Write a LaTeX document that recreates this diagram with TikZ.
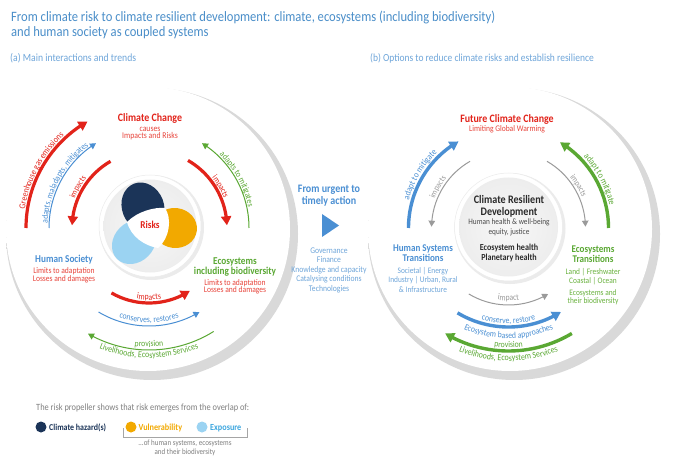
\documentclass[tikz,border=0pt]{standalone}
\usepackage{fontspec}
\setmainfont{Carlito}[FakeStretch=0.88]
\usetikzlibrary{arrows.meta,bending,decorations.text}
\definecolor{cRed}{HTML}{E2231A}
\definecolor{cRedL}{HTML}{E8453C}
\definecolor{cBlue}{HTML}{4A8FD3}
\definecolor{cTitle}{HTML}{4A8EC9}
\definecolor{cBlueL}{HTML}{6FA6DA}
\definecolor{cGreen}{HTML}{5AA833}
\definecolor{cGreenL}{HTML}{6AB23F}
\definecolor{cGray}{HTML}{9A9A9A}
\definecolor{cNavy}{HTML}{1B3458}
\definecolor{cOrange}{HTML}{F2A900}
\definecolor{cLight}{HTML}{9BD3F2}
\definecolor{cExpo}{HTML}{3EA7DF}
\definecolor{cDark}{HTML}{2A2A2A}
\definecolor{cLeg}{HTML}{7F7F7F}
\pgfdeclareradialshading{bigdisk}{\pgfpointorigin}{color(0bp)=(white); color(36bp)=(white); color(50bp)=(black!6)}
\pgfdeclareradialshading{diskshadow}{\pgfpointorigin}{color(0bp)=(black!15); color(44bp)=(black!15); color(50bp)=(white)}
\pgfdeclareradialshading{innerdisk}{\pgfpointorigin}{color(0bp)=(black!3); color(25bp)=(black!7); color(50bp)=(black!27)}
\newcommand{\fs}[1]{\fontsize{#1}{#1}\selectfont}
\newcommand{\arclabel}[7]{\path[decorate,decoration={text along path,text align=center,text={|\fs{#6}\color{#5}|#7}}] ([shift={(#3:#2)}]#1) arc[start angle=#3,end angle=#4,radius=#2];}
\begin{document}
\begin{tikzpicture}[x=1pt,y=1pt,
  bigarr/.style={line width=3.2pt,-{Triangle[length=9pt,width=10pt]}},
  thinarr/.style={line width=1pt,-{Triangle[length=6pt,width=6.5pt]}},
  t/.style={inner sep=0pt,anchor=base}]
\fill[white] (0,0) rectangle (700,466);
\useasboundingbox (0,0) rectangle (700,466);
\coordinate (C1) at (149,238);
\coordinate (C2) at (508.5,238);
% title
\node[t,anchor=base west,text=cTitle,font=\fs{14.3}] (title1) at (11,444) {From climate risk to climate resilient development: climate, ecosystems (including biodiversity)};
\node[t,anchor=base west,text=cTitle,font=\fs{14.3}] (title2) at (11,429) {and human society as coupled systems};
\node[t,anchor=base west,text=cBlueL,font=\fs{11}] (suba) at (10,404) {(a) Main interactions and trends};
\node[t,anchor=base west,text=cBlueL,font=\fs{10.8}] (subb) at (370,404) {(b) Options to reduce climate risks and establish resilience};
% big disks
\shade[shading=diskshadow] (152,232) circle[radius=146];
\shade[shading=bigdisk] (148,237) circle[radius=142];
\shade[shading=diskshadow] (514,232) circle[radius=146];
\shade[shading=bigdisk] (510,237) circle[radius=142];
% inner disks
\fill[black!8] (151.5,238.5) circle[radius=52.5];
\fill[white,draw=black!8,line width=0.5pt] (150,240) circle[radius=51];
\shade[shading=innerdisk] (150,240) circle[radius=46.5];
\fill[black!8] (510,237.5) circle[radius=55.5];
\fill[white,draw=black!8,line width=0.5pt] (508.5,239) circle[radius=54];
\shade[shading=innerdisk] (508.5,239) circle[radius=49.5];
% propeller
\fill[cLight, rotate around={225:(134,224)}] (134,224) ellipse[x radius=24, y radius=20];
\fill[cNavy, rotate around={111:(143,259)}] (143,259) ellipse[x radius=25, y radius=21];
\fill[cOrange, rotate around={-7:(175,238)}] (175,238) ellipse[x radius=22, y radius=20];
\fill[white] (127,244) .. controls (138,255) and (155,259) .. (165,258) .. controls (172,248) and (170,228) .. (158,218) .. controls (145,220) and (131,229) .. cycle;
\node[t,text=cRed,font=\bfseries\fs{10.5}] (risks) at (150,237.5) {Risks};
% left arcs
\draw[bigarr,cRed] ([shift={(180:123)}]C1) arc[start angle=180,end angle=120,radius=123];
\draw[thinarr,cBlue] ([shift={(180:100)}]C1) arc[start angle=180,end angle=122,radius=100];
\draw[bigarr,cRed] ([shift={(120:77)}]C1) arc[start angle=120,end angle=178,radius=77];
\draw[bigarr,cRed] ([shift={(60:78)}]C1) arc[start angle=60,end angle=2,radius=78];
\draw[thinarr,cGreen] ([shift={(0:100)}]C1) arc[start angle=0,end angle=58,radius=100];
\draw[bigarr,cRed] ([shift={(-120:75)}]C1) arc[start angle=-120,end angle=-57,radius=75];
\draw[thinarr,cBlue] ([shift={(-121:98)}]C1) arc[start angle=-121,end angle=-59,radius=98];
\draw[thinarr,cGreen] ([shift={(-58:122)}]C1) arc[start angle=-58,end angle=-120,radius=122];
\arclabel{C1}{125.5}{192}{112}{cRed}{9}{Greenhouse gas emissions}
\arclabel{C1}{101.5}{192}{112}{cBlue}{8.8}{adapts, maladapts, mitigates}
\arclabel{C1}{80}{180}{120}{cRed}{8.5}{impacts}
\arclabel{C1}{80.5}{60}{0}{cRed}{8.5}{impacts}
\arclabel{C1}{101.5}{69}{-11}{cGreen}{8.8}{adapts to mitigates}
\arclabel{C1}{72}{-120}{-60}{cRed}{8.8}{impacts}
\arclabel{C1}{94.5}{-125}{-55}{cBlue}{8.8}{conserves, restores}
\arclabel{C1}{119}{-120}{-60}{cGreen}{8.8}{provision}
\arclabel{C1}{130}{-140}{-40}{cGreen}{9}{Livelihoods, Ecosystem Services}
% left labels
\node[t,text=cRed,font=\bfseries\fs{11.3}] (cc) at (150,344.8) {Climate Change};
\node[t,text=cRedL,font=\fs{8.8}] (causes) at (150,334.8) {causes};
\node[t,text=cRedL,font=\fs{8.8}] (iar) at (150,327) {Impacts and Risks};
\node[t,text=cBlue,font=\bfseries\fs{10.5}] (hs) at (64,203.5) {Human Society};
\node[t,text=cRedL,font=\fs{8.6}] (hsl1) at (64,192.5) {Limits to adaptation};
\node[t,text=cRedL,font=\fs{8.6}] (hsl2) at (64,184.9) {Losses and damages};
\node[t,text=cGreen,font=\bfseries\fs{10.5}] (eco) at (235,201.8) {Ecosystems};
\node[t,text=cGreen,font=\bfseries\fs{10.5}] (ecob) at (235,191.5) {including biodiversity};
\node[t,text=cRedL,font=\fs{8.6}] (ecl1) at (235,180.9) {Limits to adaptation};
\node[t,text=cRedL,font=\fs{8.6}] (ecl2) at (235,173.2) {Losses and damages};
% middle
\node[t,text=cBlue,font=\bfseries\fs{11.4}] (urg1) at (329,273.2) {From urgent to};
\node[t,text=cBlue,font=\bfseries\fs{11.4}] (urg2) at (329,261.2) {timely action};
\fill[cBlue] (322,252) -- (339,240.5) -- (322,229) -- cycle;
\node[t,text=cBlueL,font=\fs{8.7}] (m1) at (329,212.1) {Governance};
\node[t,text=cBlueL,font=\fs{8.7}] (m2) at (329,203.1) {Finance};
\node[t,text=cBlueL,font=\fs{8.7}] (m3) at (329,193.1) {Knowledge and capacity};
\node[t,text=cBlueL,font=\fs{8.7}] (m4) at (329,184.1) {Catalysing conditions};
\node[t,text=cBlueL,font=\fs{8.7}] (m5) at (329,174.1) {Technologies};
% right arcs
\draw[bigarr,cBlue,line width=3.4pt] ([shift={(180:100)}]C2) arc[start angle=180,end angle=120,radius=100];
\draw[thinarr,cGray] ([shift={(120:77)}]C2) arc[start angle=120,end angle=179,radius=77];
\draw[thinarr,cGray] ([shift={(60:77)}]C2) arc[start angle=60,end angle=1,radius=77];
\draw[bigarr,cGreen,line width=3.4pt] ([shift={(0:100)}]C2) arc[start angle=0,end angle=59,radius=100];
\draw[thinarr,cGray] ([shift={(-121:77)}]C2) arc[start angle=-121,end angle=-59,radius=77];
\draw[bigarr,cBlue,line width=3.4pt] ([shift={(-121:99)}]C2) arc[start angle=-121,end angle=-58,radius=99];
\draw[bigarr,cGreen,line width=3.4pt] ([shift={(-59:123)}]C2) arc[start angle=-59,end angle=-121,radius=123];
\arclabel{C2}{103.5}{189}{109}{cBlue}{9}{adapt to mitigate}
\arclabel{C2}{79.5}{180}{120}{cGray}{8.5}{impacts}
\arclabel{C2}{79.5}{61}{1}{cGray}{8.5}{impacts}
\arclabel{C2}{103.5}{68}{-12}{cGreen}{9}{adapt to mitigate}
\arclabel{C2}{72.5}{-120}{-60}{cGray}{8.8}{impact}
\arclabel{C2}{95.5}{-125}{-55}{cBlue}{8.8}{conserve, restore}
\arclabel{C2}{110.5}{-130}{-50}{cBlue}{8.8}{Ecosystem based approaches}
\arclabel{C2}{119.5}{-120}{-60}{cGreen}{8.8}{provision}
\arclabel{C2}{133}{-140}{-40}{cGreen}{9}{Livelihoods, Ecosystem Services}
% right labels
\node[t,text=cRed,font=\bfseries\fs{11.3}] (fcc) at (507,343.4) {Future Climate Change};
\node[t,text=cRedL,font=\fs{8.6}] (lgw) at (507,334.2) {Limiting Global Warming};
\node[t,text=cDark,font=\bfseries\fs{11.5}] (crd1) at (509,262) {Climate Resilient};
\node[t,text=cDark,font=\bfseries\fs{11.5}] (crd2) at (509,250) {Development};
\node[t,text=cDark!85,font=\fs{8.3}] (crd3) at (509,241.3) {Human health \& well-being};
\node[t,text=cDark!85,font=\fs{8.3}] (crd4) at (509,231.3) {equity, justice};
\node[t,text=cDark,font=\bfseries\fs{9.2}] (crd5) at (509,215) {Ecosystem health};
\node[t,text=cDark,font=\bfseries\fs{9.2}] (crd6) at (509,206) {Planetary health};
\node[t,text=cBlue,font=\bfseries\fs{10.3}] (hst1) at (423,214.5) {Human Systems};
\node[t,text=cBlue,font=\bfseries\fs{10.3}] (hst2) at (423,204.5) {Transitions};
\node[t,text=cBlueL,font=\fs{8.4}] (hst3) at (423,192.2) {Societal | Energy};
\node[t,text=cBlueL,font=\fs{8.4}] (hst4) at (423,183.2) {Industry | Urban, Rural};
\node[t,text=cBlueL,font=\fs{8.4}] (hst5) at (423,173.2) {\& Infrastructure};
\node[t,text=cGreen,font=\bfseries\fs{10.3}] (et1) at (593,213.5) {Ecosystems};
\node[t,text=cGreen,font=\bfseries\fs{10.3}] (et2) at (593,203.5) {Transitions};
\node[t,text=cGreenL,font=\fs{8.4}] (et3) at (593,191.2) {Land | Freshwater};
\node[t,text=cGreenL,font=\fs{8.4}] (et4) at (593,182.2) {Coastal | Ocean};
\node[t,text=cGreenL,font=\fs{8.4}] (et5) at (593,170.2) {Ecosystems and};
\node[t,text=cGreenL,font=\fs{8.4}] (et6) at (593,162.2) {their biodiversity};
% legend
\node[t,anchor=base west,text=cLeg,font=\fs{9.5}] (leg) at (36,56) {The risk propeller shows that risk emerges from the overlap of:};
\fill[cNavy] (41,39) circle[radius=5.5];
\node[t,anchor=base west,text=cNavy,font=\bfseries\fs{9}] (lh) at (49,36) {Climate hazard(s)};
\fill[cOrange] (131,39) circle[radius=5.5];
\node[t,anchor=base west,text=cOrange,font=\bfseries\fs{9.3}] (lv) at (138.5,36) {Vulnerability};
\fill[cLight] (202,39) circle[radius=5.5];
\node[t,anchor=base west,text=cExpo,font=\bfseries\fs{9.3}] (le) at (210,36) {Exposure};
\draw[cLeg!70,line width=0.6pt] (123,38) -- (123,29) -- (247,29) -- (247,38);
\node[t,text=cLeg,font=\fs{8}] (lo1) at (185,20.4) {...of human systems, ecosystems};
\node[t,text=cLeg,font=\fs{8}] (lo2) at (185,11.4) {and their biodiversity};
\end{tikzpicture}
\end{document}
